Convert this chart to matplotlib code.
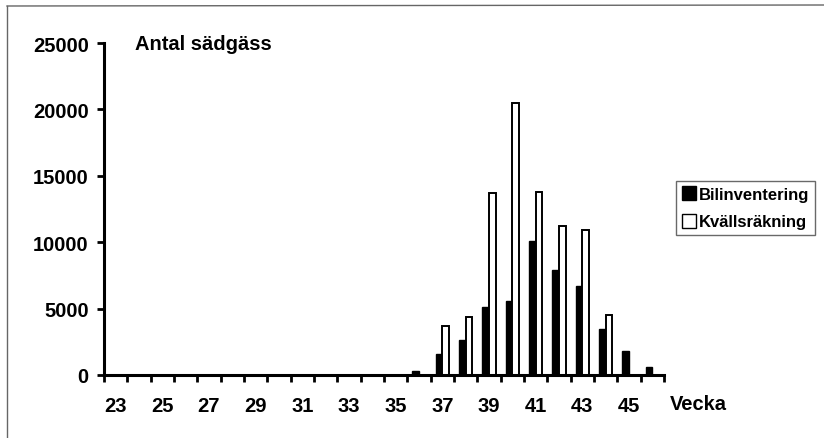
import numpy as np
import matplotlib
matplotlib.use("Agg")
import matplotlib.pyplot as plt
from matplotlib.lines import Line2D

plt.rcParams['font.family'] = ['Liberation Sans', 'DejaVu Sans']
plt.rcParams['font.weight'] = 'bold'

weeks = list(range(23, 47))
bilinventering = [0, 0, 0, 0, 0, 0, 0, 0, 0, 0, 0, 0, 0,
                  300, 1600, 2600, 5100, 5600, 10100, 7900, 6700, 3500, 1800, 600]
kvallsrakning = [0, 0, 0, 0, 0, 0, 0, 0, 0, 0, 0, 0, 0,
                 0, 3700, 4400, 13700, 20500, 13800, 11200, 10900, 4500, 0, 0]
series_names = ["Bilinventering", "Kvällsräkning"]
yticks = [0, 5000, 10000, 15000, 20000, 25000]
title = "Antal sädgäss"
xlabel = "Vecka"

W, H = 824, 439
fig = plt.figure(figsize=(W / 100, H / 100), dpi=100)
fig.patch.set_facecolor('white')

left, right, bottom, top = 104, 664, 376, 44
ax = fig.add_axes([left / W, 1 - bottom / H, (right - left) / W, (bottom - top) / H])

n = len(weeks)
centers = np.arange(n) + 0.5
w = 1 / 3.5
b_vals = np.array(bilinventering, dtype=float)
k_vals = np.array(kvallsrakning, dtype=float)
mask_b = b_vals > 0
mask_k = k_vals > 0
ax.bar(centers[mask_b] - w / 2, b_vals[mask_b], width=w, color='black',
       edgecolor='black', linewidth=1.0, zorder=2)
ax.bar(centers[mask_k] + w / 2, k_vals[mask_k], width=w, color='white',
       edgecolor='black', linewidth=1.4, zorder=2)

ax.set_xlim(0, n)
ax.set_ylim(0, 25000)
for s in ['top', 'right']:
    ax.spines[s].set_visible(False)
for s in ['left', 'bottom']:
    ax.spines[s].set_linewidth(2.2)
    ax.spines[s].set_color('black')

ax.set_yticks(yticks)
ax.set_yticklabels([str(t) for t in yticks], fontsize=14.5, fontweight='bold')
ax.tick_params(axis='y', direction='out', length=5, width=2, pad=6)

ax.set_xticks(np.arange(0, n + 1))
ax.set_xticklabels([])
ax.tick_params(axis='x', which='major', direction='out', length=5, width=2)
odd_idx = [i for i, wk in enumerate(weeks) if wk % 2 == 1]
ax.set_xticks(centers[odd_idx], minor=True)
ax.set_xticklabels([str(weeks[i]) for i in odd_idx], minor=True,
                   fontsize=14.5, fontweight='bold')
ax.tick_params(axis='x', which='minor', length=0, pad=15)

ax.text((135 - left) / (right - left), 1.0, title,
        transform=ax.transAxes, fontsize=14.5, fontweight='bold',
        ha='left', va='center')

fig.text(670 / W, 1 - 405 / H, xlabel, fontsize=14.5, fontweight='bold',
         ha='left', va='center')

handles = [
    Line2D([], [], linestyle='none', marker='s', markersize=9.5,
           markerfacecolor='black', markeredgecolor='black', markeredgewidth=1),
    Line2D([], [], linestyle='none', marker='s', markersize=9.5,
           markerfacecolor='white', markeredgecolor='black', markeredgewidth=1),
]
leg = fig.legend(handles, series_names, loc='upper left',
                 bbox_to_anchor=(676 / W, 1 - 182 / H),
                 prop={'size': 12, 'weight': 'bold'},
                 frameon=True, fancybox=False, handlelength=0.8,
                 handletextpad=0.2, borderpad=0.35, labelspacing=0.75,
                 borderaxespad=0)
leg.get_frame().set_edgecolor('#444444')
leg.get_frame().set_linewidth(1.0)

# scanned page border
fig.add_artist(Line2D([7 / W, 7 / W], [0, 1 - 7 / H], transform=fig.transFigure,
                      color='#666666', linewidth=1.0))
fig.add_artist(Line2D([7 / W, 1], [1 - 7 / H, 1 - 6 / H], transform=fig.transFigure,
                      color='#666666', linewidth=1.0))

fig.savefig('out.png', dpi=100, facecolor='white')
